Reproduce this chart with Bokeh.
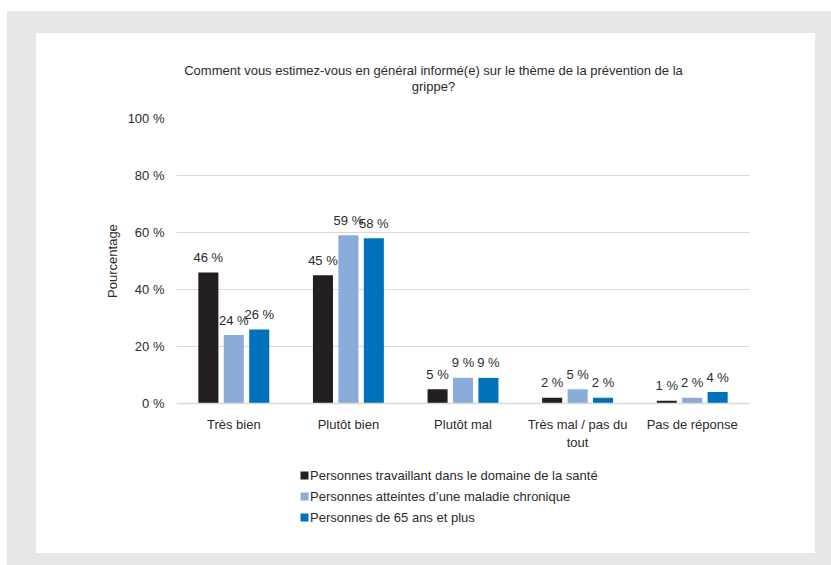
import json
from bokeh.plotting import figure
from bokeh.models import (ColumnDataSource, FactorRange, Range1d, Legend, LegendItem,
                          LinearAxis, FixedTicker, CustomJSTickFormatter, Span)
from bokeh.transform import dodge
from bokeh.core.properties import value
from bokeh.embed import file_html
from bokeh.resources import INLINE

# ---- data ----
title_lines = ["Comment vous estimez-vous en général informé(e) sur le thème de la prévention de la",
               "grippe?"]
categories = ["Très bien", "Plutôt bien", "Plutôt mal", "Très mal / pas du\ntout", "Pas de réponse"]
series_names = ["Personnes travaillant dans le domaine de la santé",
                "Personnes atteintes d\u2019une maladie chronique",
                "Personnes de 65 ans et plus"]
sante = [46, 45, 5, 2, 1]
chronique = [24, 59, 9, 5, 2]
ages65 = [26, 58, 9, 2, 4]
y_ticks = [0, 20, 40, 60, 80, 100]
y_label = "Pourcentage"

colors = ["#231f20", "#8aacd8", "#0072bc"]
FONT = "Liberation Sans"
TXT = "#2b2b2b"

src = ColumnDataSource(dict(
    cat=categories,
    s1=sante, s2=chronique, s3=ages65,
    l1=[f"{v} %" for v in sante],
    l2=[f"{v} %" for v in chronique],
    l3=[f"{v} %" for v in ages65],
))

# frame runs from the 100 % line down to below the legend; 0 % sits at the bar baseline
p = figure(x_range=FactorRange(*categories, range_padding=0, factor_padding=0),
           y_range=Range1d(-48.07, 100),
           x_axis_location=None,
           frame_width=573, frame_height=422,
           width=831, height=565, output_backend="svg", toolbar_location=None,
           min_border_left=176, min_border_right=82, min_border_top=118, min_border_bottom=25)

p.border_fill_alpha = 0
p.background_fill_color = "white"
p.outline_line_color = None
p.styles = {"background": "linear-gradient(#ffffff,#ffffff) 36px 33px / 779px 520px no-repeat, "
                          "linear-gradient(#e6e7e8,#e6e7e8) 7px 11px / 824px 554px no-repeat, #ffffff"}

p.xgrid.grid_line_color = None
p.ygrid.grid_line_color = "#d9d9d9"
p.ygrid.grid_line_width = 1

# baseline (category axis line)
p.add_layout(Span(location=0, dimension="width", line_color="#d9d9d9", line_width=1.5))

offsets = [-0.222, 0.0, 0.222]
cols = ["s1", "s2", "s3"]
labs = ["l1", "l2", "l3"]
renderers = []
for off, c, l, col in zip(offsets, cols, labs, colors):
    r = p.vbar(x=dodge("cat", off, range=p.x_range), top=c, width=0.175, source=src,
               fill_color=col, line_color=None)
    renderers.append(r)
    p.text(x=dodge("cat", off, range=p.x_range), y=c, text=l, source=src,
           text_align="center", text_baseline="alphabetic", y_offset=-15,
           text_font=value(FONT), text_font_size="13px", text_color=TXT)

# category labels under the baseline
p.text(x="cat", y=0, text="cat", source=src, text_align="center", text_baseline="top",
       y_offset=13, text_font=value(FONT), text_font_size="13px", text_color=TXT,
       text_line_height=1.2)

# y axis
p.yaxis.ticker = FixedTicker(ticks=y_ticks)
p.yaxis.formatter = CustomJSTickFormatter(code="return tick.toFixed(0) + ' %';")
p.yaxis.axis_line_color = None
p.yaxis.major_tick_line_color = None
p.yaxis.minor_tick_line_color = None
p.yaxis.major_label_standoff = 6
p.yaxis.major_label_text_font = FONT
p.yaxis.major_label_text_font_size = "13px"
p.yaxis.major_label_text_color = TXT

# y axis title, centred on the 0-100 % span
ylab_axis = LinearAxis(ticker=FixedTicker(ticks=[50]),
                       formatter=CustomJSTickFormatter(code="return " + json.dumps(y_label) + ";"),
                       axis_line_color=None, major_tick_line_color=None, minor_tick_line_color=None,
                       major_tick_in=0, major_tick_out=0, major_label_standoff=4,
                       major_label_orientation="vertical", major_label_text_font=FONT,
                       major_label_text_font_size="13px", major_label_text_color=TXT)
p.add_layout(ylab_axis, "left")

# title: two lines drawn as single tick labels of helper axes above the frame
title_x = 2.2426  # synthetic position on the category range
for txt, standoff in zip(reversed(title_lines), [25, -2]):
    ax = LinearAxis(ticker=FixedTicker(ticks=[title_x]),
                    formatter=CustomJSTickFormatter(code="return " + json.dumps(txt) + ";"),
                    axis_line_color=None, major_tick_line_color=None, minor_tick_line_color=None,
                    major_tick_in=0, major_tick_out=0,
                    major_label_standoff=standoff, major_label_text_font=FONT,
                    major_label_text_font_size="13px", major_label_text_color=TXT)
    p.add_layout(ax, "above")

legend = Legend(items=[LegendItem(label=n, renderers=[r]) for n, r in zip(series_names, renderers)],
                location=(123, 15), orientation="vertical",
                glyph_width=10, glyph_height=10, label_height=16, spacing=5,
                padding=0, margin=0, label_standoff=1,
                label_text_font=FONT, label_text_font_size="13px", label_text_color=TXT,
                background_fill_alpha=0, border_line_color=None)
p.add_layout(legend, "center")

open("out.html", "w").write(file_html(p, INLINE))
